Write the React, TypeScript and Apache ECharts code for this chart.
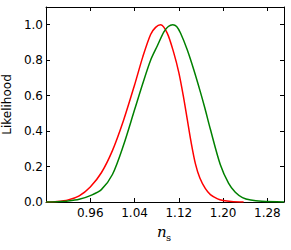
import React, { useEffect, useRef } from "react";
import * as echarts from "echarts";

const redX = [0.88, 0.9, 0.92, 0.94, 0.96, 0.98, 1.0, 1.02, 1.04, 1.055, 1.069, 1.078, 1.087, 1.099, 1.111, 1.12, 1.128, 1.135, 1.142, 1.15, 1.158, 1.168, 1.177, 1.19, 1.2, 1.215, 1.237];
const redY = [0, 0.003, 0.012, 0.035, 0.085, 0.165, 0.29, 0.46, 0.66, 0.82, 0.945, 0.985, 1.0, 0.953, 0.84, 0.73, 0.6, 0.47, 0.34, 0.215, 0.135, 0.075, 0.042, 0.018, 0.009, 0.003, 0];

const greenX = [0.88, 0.9, 0.92, 0.94, 0.96, 0.98, 1.0, 1.02, 1.04, 1.055, 1.069, 1.081, 1.093, 1.101, 1.109, 1.116, 1.123, 1.135, 1.147, 1.159, 1.167, 1.177, 1.195, 1.21, 1.222, 1.235, 1.25, 1.27, 1.31];
const greenY = [0, 0.002, 0.006, 0.015, 0.036, 0.07, 0.155, 0.32, 0.52, 0.67, 0.8, 0.88, 0.96, 0.99, 1.0, 0.99, 0.953, 0.86, 0.746, 0.62, 0.53, 0.41, 0.21, 0.105, 0.055, 0.025, 0.011, 0.004, 0];

const xMin = 0.88;
const xMax = 1.31;
const xStep = 0.08;
const yMin = 0;
const yMax = 1.1;
const yStep = 0.2;

const yTitle = "Likelihood";

export default function App() {
  const ref = useRef<HTMLDivElement>(null);
  useEffect(() => {
    if (!ref.current) return;
    const chart = echarts.init(ref.current, null, { renderer: "svg" });
    const font = "DejaVu Sans";
    const tick = { show: true, inside: true, length: 4, lineStyle: { color: "#000", width: 1 } };
    const line = { show: true, onZero: false, lineStyle: { color: "#000", width: 1 } };
    const xFmt = (v: number) =>
      Math.abs(v - xMin) < 1e-6 || Math.abs(v - xMax) < 1e-6 ? "" : v.toFixed(2);
    const yFmt = (v: number) => (Math.abs(v - yMax) < 1e-6 ? "" : v.toFixed(1));
    chart.setOption({
      animation: false,
      grid: { left: 46, right: 7, top: 7, bottom: 48, containLabel: false, outerBoundsMode: "none" },
      xAxis: [
        {
          type: "value", min: xMin, max: xMax, interval: xStep, position: "bottom",
          axisLine: line, axisTick: tick, splitLine: { show: false },
          axisLabel: { formatter: xFmt, color: "#000", fontFamily: font, fontSize: 12, margin: 5, showMaxLabel: false, showMinLabel: false },
        },
        {
          type: "value", min: xMin, max: xMax, interval: xStep, position: "top",
          axisLine: line, axisTick: tick, splitLine: { show: false }, axisLabel: { show: false },
        },
      ],
      yAxis: [
        {
          type: "value", min: yMin, max: yMax, interval: yStep, position: "left",
          axisLine: line, axisTick: tick, splitLine: { show: false },
          axisLabel: { formatter: yFmt, color: "#000", fontFamily: font, fontSize: 12, margin: 3, showMaxLabel: false },
          name: yTitle, nameLocation: "middle", nameGap: 27,
          nameTextStyle: { color: "#000", fontFamily: font, fontSize: 12 },
        },
        {
          type: "value", min: yMin, max: yMax, interval: yStep, position: "right",
          axisLine: line, axisTick: tick, splitLine: { show: false }, axisLabel: { show: false },
        },
      ],
      graphic: [
        {
          type: "text", left: 157, top: 224,
          style: { text: "n", font: "italic 15px 'DejaVu Serif'", fill: "#000" },
        },
        {
          type: "text", left: 166, top: 232,
          style: { text: "s", font: "10px 'DejaVu Serif'", fill: "#000" },
        },
      ],
      series: [
        {
          type: "line", smooth: 0.3, showSymbol: false, symbol: "none",
          data: redX.map((x, i) => [x, redY[i]]),
          lineStyle: { color: "#ff0000", width: 1.5 }, itemStyle: { color: "#ff0000" },
        },
        {
          type: "line", smooth: 0.3, showSymbol: false, symbol: "none",
          data: greenX.map((x, i) => [x, greenY[i]]),
          lineStyle: { color: "#008000", width: 1.5 }, itemStyle: { color: "#008000" },
        },
      ],
    });
    return () => chart.dispose();
  }, []);
  return (
    <div
      ref={ref}
      style={{ position: "absolute", left: 0, top: 0, width: 291, height: 250, background: "#fff" }}
    />
  );
}
